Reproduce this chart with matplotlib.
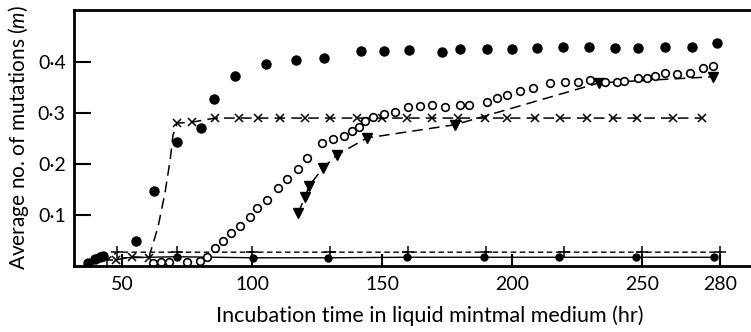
import matplotlib
matplotlib.use("Agg")
import matplotlib.pyplot as plt

plt.rcParams['font.family'] = ['Lato', 'DejaVu Sans']
plt.rcParams['mathtext.fontset'] = 'custom'
plt.rcParams['mathtext.it'] = 'Lato:italic'

# filled circles, no line
dots_x = [36.9, 39.6, 41.5, 42.7, 55.4, 62.3, 71.2, 80.4, 85.4, 93.5, 105.4, 116.9,
          127.7, 141.9, 150.8, 160.4, 173.1, 180.0, 190.4, 200.0, 209.6, 219.6, 229.6,
          239.6, 248.5, 258.8, 269.2, 278.8]
dots_y = [0.006, 0.014, 0.018, 0.020, 0.049, 0.147, 0.243, 0.271, 0.327, 0.373, 0.396, 0.404,
          0.408, 0.422, 0.422, 0.424, 0.420, 0.425, 0.425, 0.425, 0.427, 0.429, 0.429,
          0.427, 0.427, 0.429, 0.429, 0.437]

# open circles
open_x = [61.9, 65.0, 68.1, 75.0, 80.0, 82.7, 85.8, 88.8, 91.9, 95.4, 99.2, 101.9, 105.8,
          110.0, 113.5, 117.7, 121.2, 126.9, 131.2, 135.4, 138.5, 141.2, 143.5, 146.5,
          150.8, 155.0, 160.0, 164.6, 169.2, 174.2, 180.0, 183.5, 190.4, 194.2, 198.1,
          203.1, 208.1, 214.6, 220.4, 225.4, 230.0, 235.8, 240.4, 243.1, 248.5, 251.9,
          255.0, 258.8, 263.5, 268.5, 273.5, 277.3]
open_y = [0.006, 0.008, 0.008, 0.008, 0.010, 0.018, 0.035, 0.049, 0.065, 0.078, 0.096, 0.114,
          0.129, 0.153, 0.171, 0.190, 0.212, 0.241, 0.249, 0.255, 0.265, 0.273, 0.284, 0.292,
          0.298, 0.302, 0.312, 0.314, 0.316, 0.312, 0.316, 0.316, 0.322, 0.329, 0.335,
          0.343, 0.349, 0.359, 0.361, 0.361, 0.365, 0.361, 0.361, 0.363, 0.369, 0.369,
          0.373, 0.378, 0.376, 0.378, 0.388, 0.392]

# triangles, dashed
tri_x = [117.7, 120.4, 121.9, 127.3, 132.7, 144.2, 178.1, 233.5, 277.3]
tri_y = [0.104, 0.135, 0.157, 0.192, 0.218, 0.251, 0.277, 0.359, 0.371]

cross_x = [47.7, 53.8, 60.4, 71.2, 76.9, 85.8, 95.0, 102.3, 110.8, 120.4, 130.0, 140.4,
           150.0, 159.6, 169.2, 179.2, 189.6, 198.0, 208.8, 218.5, 228.8, 238.8, 248.0,
           261.9, 273.0]
cross_y = [0.012, 0.018, 0.016, 0.280, 0.282] + [0.290] * 20
curve_x = [47.7, 53.8, 60.4, 60.8, 63.8, 66.5, 68.5, 69.6, 71.2, 76.9, 85.8] + cross_x[6:]
curve_y = [0.012, 0.018, 0.016, 0.025, 0.076, 0.143, 0.208, 0.257, 0.280, 0.282] + [0.290] * 20

# plus signs, short dashes
plus_x = [44.2, 48.1, 71.2, 100.0, 130.0, 160.0, 190.0, 220.0, 250.0, 280.0]
plus_y = [0.012, 0.027, 0.027, 0.027, 0.027, 0.027, 0.027, 0.027, 0.027, 0.027]

# small filled circles on the solid line
low_x = [50.8, 71.0, 100.4, 129.2, 159.6, 189.2, 218.0, 247.7, 277.7]
low_y = [0.016, 0.018, 0.016, 0.016, 0.017, 0.017, 0.017, 0.017, 0.017]

xticks = [50, 100, 150, 200, 250, 280]
yticks = [0.1, 0.2, 0.3, 0.4]
ytick_labels = ['0·1', '0·2', '0·3', '0·4']

fig = plt.figure(figsize=(7.51, 3.32), dpi=100)
ax = fig.add_axes([0.0985, 0.199, 0.9015, 0.771])

ax.plot(curve_x, curve_y, color='black', lw=1.1, ls=(0, (7, 4)))
ax.plot(cross_x, cross_y, ls='none', marker='x', ms=6, mew=1.1, color='black')
ax.plot(plus_x, plus_y, color='black', lw=1.0, ls=(0, (4, 2.5)), marker='+', ms=8, mew=1.1)
ax.plot(low_x, low_y, color='black', lw=1.0, marker='o', ms=5, markevery=slice(1, None))
ax.plot(tri_x, tri_y, color='black', lw=1.1, ls=(0, (7, 4)), marker='v', ms=6.5)
ax.plot(open_x, open_y, ls='none', marker='o', ms=5.5, mfc='white', mec='black', mew=1.2)
ax.plot(dots_x, dots_y, ls='none', marker='o', ms=6.5, color='black')

ax.set_xlim(31.5, 291.9)
ax.set_ylim(0, 0.502)
ax.set_xticks(xticks)
ax.set_xticklabels([str(t) for t in xticks])
ax.set_yticks(yticks)
ax.set_yticklabels(ytick_labels)
ax.tick_params(direction='in', length=9, width=1.5, labelsize=14, pad=7)
ax.tick_params(axis='y', length=12, pad=6)

for side in ['left', 'top', 'bottom']:
    ax.spines[side].set_linewidth(2)
ax.spines['right'].set_visible(False)

ax.set_xlabel('Incubation time in liquid mintmal medium (hr)', fontsize=15.5)
ax.xaxis.set_label_coords(0.526, -0.155)
ax.set_ylabel('Average no. of mutations ($m$)', fontsize=15, labelpad=5)

fig.savefig('out.png', dpi=100)
